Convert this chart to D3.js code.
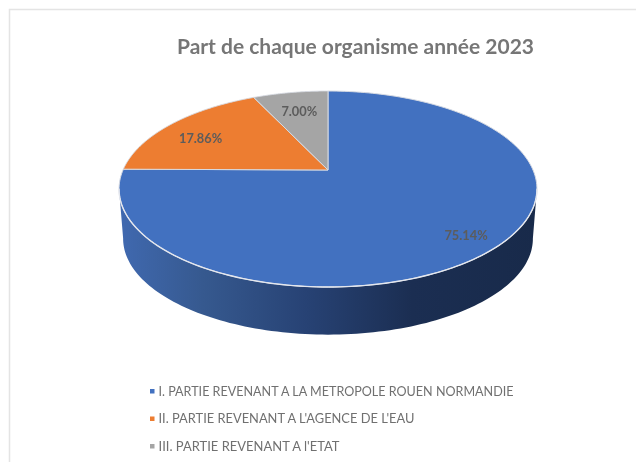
<!DOCTYPE html>
<html><head><meta charset="utf-8">
<script src="https://cdn.jsdelivr.net/npm/d3@7/dist/d3.min.js"></script>
<style>html,body{margin:0;padding:0;background:#fff}svg{display:block;filter:blur(0.55px)}</style>
</head><body><svg id="c" width="636" height="462"></svg>
<script>
const title = "Part de chaque organisme année 2023";
const categories = ["I. PARTIE REVENANT A LA METROPOLE ROUEN NORMANDIE","II. PARTIE REVENANT A L'AGENCE DE L'EAU","III. PARTIE REVENANT A l'ETAT"];
const values = [75.14, 17.86, 7.00];
const labels = ["75.14%","17.86%","7.00%"];
const colors = ["#4271c0","#ed7d31","#a5a5a5"];
const labelRadius = [0.845, 0.8, 0.73];
const labelNudge = [1, 6, 0];

const svg = d3.select("#c");
const defs = svg.append("defs");
const grad = defs.append("linearGradient").attr("id","wall").attr("gradientUnits","userSpaceOnUse")
  .attr("x1",119).attr("x2",537).attr("y1",0).attr("y2",0);
[[0,"#4069b0"],[0.2,"#36598f"],[0.45,"#274274"],[0.7,"#1b2e52"],[1,"#182a4a"]]
  .forEach(s=>grad.append("stop").attr("offset",s[0]).attr("stop-color",s[1]));

// frame
svg.append("path").attr("d","M9.5,462V9.5H636").attr("fill","none").attr("stroke","#e4e4e4").attr("stroke-width",1.5);

// perspective disc: a = clockwise angle from north, r = 0..1
const K = 0.194;
const topDisc = {cx:328, cy:170, R:205, S:94.3};
const lowDisc = {cx:328, cy:220, R:201, S:92.4};
const project = (d,a,r=1)=>{
  const X=r*Math.sin(a), Y=r*Math.cos(a), w=1+K*Y;
  return [d.cx+d.R*X/w, d.cy-d.S*Y/w];
};
const line = d3.line();
const arcPts = (d,a0,a1,n=120)=>d3.range(n+1).map(i=>project(d,a0+(a1-a0)*i/n));

// side wall
const t0 = 101*Math.PI/180, t1 = 259*Math.PI/180;
svg.append("path")
  .attr("d", line(arcPts(topDisc,t0,t1).concat(arcPts(lowDisc,t1,t0)))+"Z")
  .attr("fill","url(#wall)");

// top face
const pie = d3.pie().sort(null).value(d=>d);
const arcs = pie(values);
svg.append("g").selectAll("path").data(arcs).join("path")
  .attr("d",d=>line([[topDisc.cx,topDisc.cy]].concat(arcPts(topDisc,d.startAngle,d.endAngle,200)))+"Z")
  .attr("fill",(d,i)=>colors[i])
  .attr("stroke","#d6dae2").attr("stroke-width",1).attr("stroke-linejoin","round");

// front rim highlight
svg.append("path").attr("d",line(arcPts(topDisc,t0,t1)))
  .attr("fill","none").attr("stroke","#e4e7ee").attr("stroke-width",1.4);

// data labels
svg.append("g").selectAll("text").data(arcs).join("text")
  .attr("x",(d,i)=>project(topDisc,(d.startAngle+d.endAngle)/2,labelRadius[i])[0])
  .attr("y",(d,i)=>project(topDisc,(d.startAngle+d.endAngle)/2,labelRadius[i])[1]+labelNudge[i])
  .attr("text-anchor","middle").attr("dominant-baseline","central")
  .attr("font-family","Lato").attr("font-weight",700).attr("font-size",12.8).attr("fill","#5c5c5c")
  .text((d,i)=>labels[i]);

// title
svg.append("text").attr("x",177).attr("y",54)
  .attr("font-family","Lato").attr("font-weight",700).attr("font-size",21).attr("fill","#767676")
  .attr("textLength",357).attr("lengthAdjust","spacingAndGlyphs").text(title);

// legend
const legendY = d3.scalePoint().domain(categories).range([391,446]);
const legendW = [355,256,181];
const lg = svg.append("g").selectAll("g").data(categories).join("g")
  .attr("transform",d=>`translate(150,${legendY(d)})`);
lg.append("rect").attr("x",0).attr("y",-2).attr("width",4.5).attr("height",4.5).attr("fill",(d,i)=>colors[i]);
lg.append("text").attr("x",8.5).attr("y",4.5)
  .attr("font-family","Lato").attr("font-size",13).attr("fill","#707070")
  .attr("textLength",(d,i)=>legendW[i]).attr("lengthAdjust","spacingAndGlyphs").text(d=>d);
</script></body></html>
